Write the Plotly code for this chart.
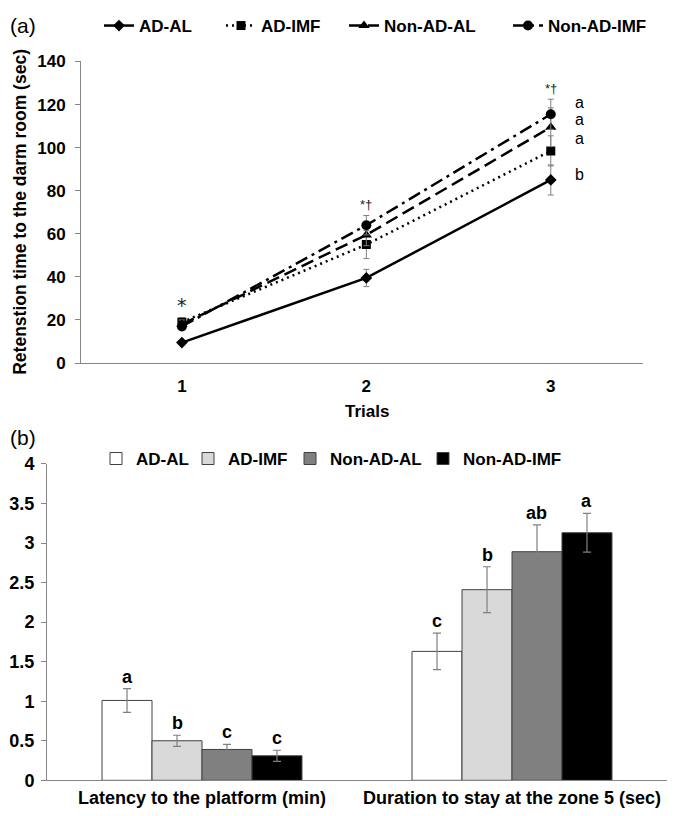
import plotly.graph_objects as go

# ---------------- data ----------------
trials = [1, 2, 3]
trial_labels = ["1", "2", "3"]
groups = ["AD-AL", "AD-IMF", "Non-AD-AL", "Non-AD-IMF"]

ret_ad_al = [9.5, 39.5, 85]
ret_ad_imf = [19, 55, 98.5]
ret_non_ad_al = [18, 59.5, 109.5]
ret_non_ad_imf = [17, 64, 115.5]

ret_err_ad_al = [1, 4, 7]
ret_err_ad_imf = [2, 6.5, 7]
ret_err_non_ad_al = [2, 5, 9]
ret_err_non_ad_imf = [1.5, 4.5, 7]

trial_sig = ["*", "*\u2020", "*\u2020"]
trial3_letters = ["b", "a", "a", "a"]

measures = ["Latency to the platform (min)", "Duration to stay at the zone 5 (sec)"]
bar_ad_al = [1.01, 1.63]
bar_ad_imf = [0.50, 2.41]
bar_non_ad_al = [0.39, 2.89]
bar_non_ad_imf = [0.31, 3.13]
bar_err_ad_al = [0.15, 0.23]
bar_err_ad_imf = [0.07, 0.29]
bar_err_non_ad_al = [0.065, 0.34]
bar_err_non_ad_imf = [0.07, 0.245]
bar_letters_ad_al = ["a", "c"]
bar_letters_ad_imf = ["b", "b"]
bar_letters_non_ad_al = ["c", "ab"]
bar_letters_non_ad_imf = ["c", "a"]

y_ticks_a = [0, 20, 40, 60, 80, 100, 120, 140]
y_ticks_b = [0, 0.5, 1, 1.5, 2, 2.5, 3, 3.5, 4]

# ---------------- layout helpers ----------------
# the page body has an 8px default margin, so the figure is sized to fit inside it
OFF = 8
W, H = 680 - 2 * OFF, 816 - 2 * OFF
FONT = "Liberation Sans, Arial, sans-serif"
AXIS_GREY = "#868686"
ERR_GREY = "#808080"


def fx(p):
    return (p - OFF) / W


def fy(p):
    return 1 - (p - OFF) / H


fig = go.Figure()

# ---------------- panel (a) ----------------
line_series = [
    (groups[0], ret_ad_al, ret_err_ad_al, "solid", "diamond", 9),
    (groups[1], ret_ad_imf, ret_err_ad_imf, "2px,4px", "square", 9),
    (groups[2], ret_non_ad_al, ret_err_non_ad_al, "13px,6px", "triangle-up", 10),
    (groups[3], ret_non_ad_imf, ret_err_non_ad_imf, "13px,5px,3px,5px", "circle", 10),
]
letter_yshift = [5, 12, 8, 12]
for i, (name, vals, errs, dash, sym, size) in enumerate(line_series):
    fig.add_trace(go.Scatter(
        x=trials, y=vals, name=name, mode="lines+markers",
        line=dict(color="black", width=2.5, dash=dash),
        marker=dict(symbol=sym, size=size, color="black"),
        error_y=dict(type="data", array=errs, color=ERR_GREY, thickness=1, width=3),
        xaxis="x", yaxis="y",
        legend="legend" if i == 0 else f"legend{i + 1}",
    ))

# ---------------- panel (b) ----------------
bar_series = [
    (groups[0], bar_ad_al, bar_err_ad_al, "#ffffff", bar_letters_ad_al),
    (groups[1], bar_ad_imf, bar_err_ad_imf, "#d9d9d9", bar_letters_ad_imf),
    (groups[2], bar_non_ad_al, bar_err_non_ad_al, "#808080", bar_letters_non_ad_al),
    (groups[3], bar_non_ad_imf, bar_err_non_ad_imf, "#000000", bar_letters_non_ad_imf),
]
for i, (name, vals, errs, col, _) in enumerate(bar_series):
    fig.add_trace(go.Bar(
        x=measures, y=vals, name=name,
        marker=dict(color=col, line=dict(color="#404040", width=1)),
        error_y=dict(type="data", array=errs, color=ERR_GREY, thickness=1.2, width=4),
        xaxis="x2", yaxis="y2",
        legend=f"legend{i + 5}",
    ))

# ---------------- axes ----------------
xa_dom = [fx(81), fx(643)]
ya_dom = [fy(358), fy(53)]
xb_px = [47, 667]
xb_dom = [fx(xb_px[0]), fx(xb_px[1])]
yb_dom = [fy(780), fy(460)]
BARGAP = 0.355

tickfont_a = dict(family=FONT, size=17, color="black", weight="bold")
tickfont_b = dict(family=FONT, size=18, color="black", weight="bold")

fig.update_layout(
    width=W, height=H,
    margin=dict(l=0, r=0, t=0, b=0),
    paper_bgcolor="white", plot_bgcolor="white",
    barmode="group", bargap=BARGAP, bargroupgap=0,
    xaxis=dict(domain=xa_dom, anchor="y", range=[0.453, 3.5],
               tickvals=trials, ticktext=trial_labels, tickfont=tickfont_a,
               showline=True, linecolor=AXIS_GREY, linewidth=1,
               showgrid=False, zeroline=False, ticks="", ticklabelstandoff=8,
               automargin=False),
    yaxis=dict(domain=ya_dom, anchor="x", range=[0, 140],
               tickvals=y_ticks_a, tickfont=tickfont_a,
               showline=True, linecolor=AXIS_GREY, linewidth=1,
               ticks="outside", ticklen=5, tickcolor=AXIS_GREY,
               showgrid=False, zeroline=False, ticklabelstandoff=6,
               automargin=False),
    xaxis2=dict(domain=xb_dom, anchor="y2", range=[-0.5, 1.5],
                showticklabels=False,
                showline=True, linecolor=AXIS_GREY, linewidth=1,
                showgrid=False, zeroline=False, ticks="",
                automargin=False),
    yaxis2=dict(domain=yb_dom, anchor="x2", range=[0, 4],
                tickvals=y_ticks_b, tickfont=tickfont_b,
                showline=True, linecolor=AXIS_GREY, linewidth=1,
                ticks="outside", ticklen=5, tickcolor=AXIS_GREY,
                showgrid=False, zeroline=False, ticklabelstandoff=3,
                automargin=False),
    showlegend=True,
)

# ---------------- legends (one per entry for exact placement) ----------------
leg_font = dict(family=FONT, size=17, color="black", weight="bold")
legend_text_a = [139, 261, 384, 548]
legend_text_b = [136, 228, 330, 463]
for i in range(4):
    key_a = "legend" if i == 0 else f"legend{i + 1}"
    fig.update_layout({key_a: dict(
        x=fx(legend_text_a[i] - 40), xanchor="left", y=fy(17), yanchor="middle",
        orientation="h", bgcolor="rgba(0,0,0,0)", borderwidth=0,
        font=leg_font, itemclick=False)})
    fig.update_layout({f"legend{i + 5}": dict(
        x=fx(legend_text_b[i] - 40), xanchor="left", y=fy(455), yanchor="middle",
        orientation="h", bgcolor="rgba(0,0,0,0)", borderwidth=0,
        font=leg_font, itemclick=False)})

# ---------------- annotations ----------------
ann = []
ann.append(dict(text="(a)", x=fx(8), y=fy(17), xref="paper", yref="paper",
                xanchor="left", yanchor="middle", showarrow=False,
                font=dict(family=FONT, size=21, color="black")))
ann.append(dict(text="(b)", x=fx(8), y=fy(433), xref="paper", yref="paper",
                xanchor="left", yanchor="middle", showarrow=False,
                font=dict(family=FONT, size=21, color="black")))
ann.append(dict(text="Retenstion time to the darm room (sec)", textangle=-90,
                x=fx(8), y=fy(205), xref="paper", yref="paper",
                xanchor="left", yanchor="middle", showarrow=False,
                font=dict(family=FONT, size=17.5, color="black", weight="bold")))
ann.append(dict(text="Trials", x=fx(367), y=fy(407), xref="paper", yref="paper",
                xanchor="center", yanchor="middle", showarrow=False,
                font=dict(family=FONT, size=17, color="black", weight="bold")))

# category labels of panel (b)
for m in measures:
    ann.append(dict(text=m, x=m, xref="x2", y=fy(798), yref="paper",
                    xanchor="center", yanchor="middle", showarrow=False,
                    font=dict(family=FONT, size=18, color="black", weight="bold")))

# significance marks above each trial
all_line = [(s[1], s[2]) for s in line_series]
for j, t in enumerate(trials):
    top = max(v[j] + e[j] for v, e in all_line)
    first = j == 0
    ann.append(dict(text=trial_sig[j], x=t, y=top, xref="x", yref="y",
                    xanchor="center", yanchor="middle", yshift=13 if first else 11,
                    showarrow=False,
                    font=dict(family="DejaVu Sans, sans-serif" if first else FONT,
                              size=19 if first else 13, color="#222222")))

# letters to the right of trial 3
for i, (name, vals, errs, dash, sym, size) in enumerate(line_series):
    ann.append(dict(text=trial3_letters[i], x=trials[-1], y=vals[-1], xref="x", yref="y",
                    xanchor="center", yanchor="middle", xshift=29,
                    yshift=letter_yshift[i], showarrow=False,
                    font=dict(family=FONT, size=16, color="black")))

# letters over bars
cat_px = (xb_px[1] - xb_px[0]) / len(measures)
bar_px = cat_px * (1 - BARGAP) / len(bar_series)
for i, (name, vals, errs, col, letters) in enumerate(bar_series):
    for j, m in enumerate(measures):
        ann.append(dict(text=letters[j], x=m, y=vals[j] + errs[j], xref="x2", yref="y2",
                        xanchor="center", yanchor="bottom",
                        xshift=(i - (len(bar_series) - 1) / 2) * bar_px, yshift=0,
                        showarrow=False,
                        font=dict(family=FONT, size=18, color="black", weight="bold")))

fig.update_layout(annotations=ann)

fig.write_html("out.html")
